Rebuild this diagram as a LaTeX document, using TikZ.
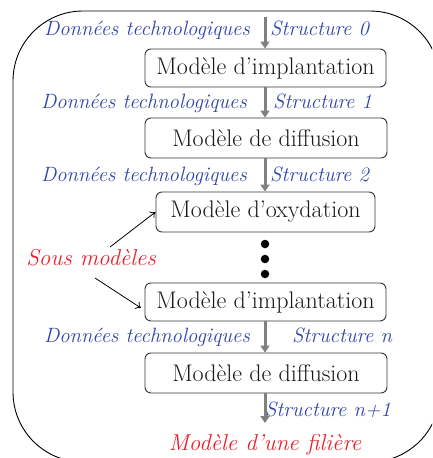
\documentclass[tikz,border=0pt]{standalone}
\usetikzlibrary{arrows.meta}
\definecolor{lblue}{RGB}{48,68,168}
\definecolor{lred}{RGB}{236,32,44}
\definecolor{agray}{RGB}{128,128,128}
\definecolor{bgray}{RGB}{50,50,50}
\tikzset{
  modbox/.style={draw=bgray, line width=0.9pt, rounded corners=6pt, inner sep=0pt,
    font=\fontsize{24}{28}\selectfont, text=black!90},
  datalbl/.style={text=lblue, font=\fontsize{20.7}{24}\selectfont\itshape, inner sep=0pt, anchor=base east},
  strlbl/.style={text=lblue, font=\fontsize{20.7}{24}\selectfont\itshape, inner sep=0pt, anchor=base west},
  redlbl/.style={text=lred, font=\fontsize{23}{27}\selectfont\itshape, inner sep=0pt, anchor=base},
  flow/.style={draw=agray, line width=3pt, -{Triangle[length=7pt,width=9pt]}, shorten >=0pt},
  pointer/.style={draw=black, line width=0.8pt, -{To[length=5pt,width=8pt]}},
  bullet/.style={circle, fill=black, inner sep=0pt, minimum size=8.5pt}
}
\begin{document}
\begin{tikzpicture}[x=1pt,y=-1pt]
\useasboundingbox (0,0) rectangle (432,458);
\begin{scope}
\clip (0,0) rectangle (432,458);
\draw[line width=0.9pt, rounded corners=70pt] (13,11) rectangle (440,462);
\end{scope}

\node[modbox, minimum width=241pt, minimum height=38pt] (b1) at (265.5,68) {Modèle d’implantation};
\node[modbox, minimum width=242pt, minimum height=40pt] (b2) at (266,138) {Modèle de diffusion};
\node[modbox, minimum width=219pt, minimum height=40pt] (b3) at (265.5,212) {Modèle d’oxydation};
\node[modbox, minimum width=241pt, minimum height=38pt] (b4) at (265.5,302) {Modèle d’implantation};
\node[modbox, minimum width=242pt, minimum height=40pt] (b5) at (266,373) {Modèle de diffusion};

\node[datalbl] (d0) at (250,35.5) {Données technologiques};
\node[strlbl] (s0) at (270,35.5) {Structure 0};
\node[datalbl] (d1) at (247,108) {Données technologiques};
\node[strlbl] (s1) at (273,108) {Structure 1};
\node[datalbl] (d2) at (247,181) {Données technologiques};
\node[strlbl] (s2) at (270,181) {Structure 2};
\node[datalbl] (dn) at (250,342) {Données technologiques};
\node[strlbl] (sn) at (292,342) {Structure \textit{n}};
\node[strlbl] (sn1) at (265,416) {Structure \textit{n}+1};

\node[redlbl] (fil) at (265,450) {Modèle d’une filière};
\node[redlbl] (sm) at (91,265) {Sous modèles};

\coordinate (top) at (265,17);
\coordinate (end) at (265,423);
\draw[flow] (top) -- (b1.north -| top);
\draw[flow] (b1.south -| top) -- (b2.north -| top);
\draw[flow] (b2.south -| top) -- (b3.north -| top);
\draw[flow] (b4.south -| top) -- (b5.north -| top);
\draw[flow] (b5.south -| top) -- (end);

\node[bullet] (p1) at (265,244) {};
\node[bullet] (p2) at (265,259) {};
\node[bullet] (p3) at (265,274) {};

\coordinate (sa) at (110,247);
\coordinate (sb) at (95,278);
\coordinate (tb) at (141,308);
\draw[pointer] (sa) -- (b3.west);
\draw[pointer] (sb) -- (tb);
\end{tikzpicture}
\end{document}
